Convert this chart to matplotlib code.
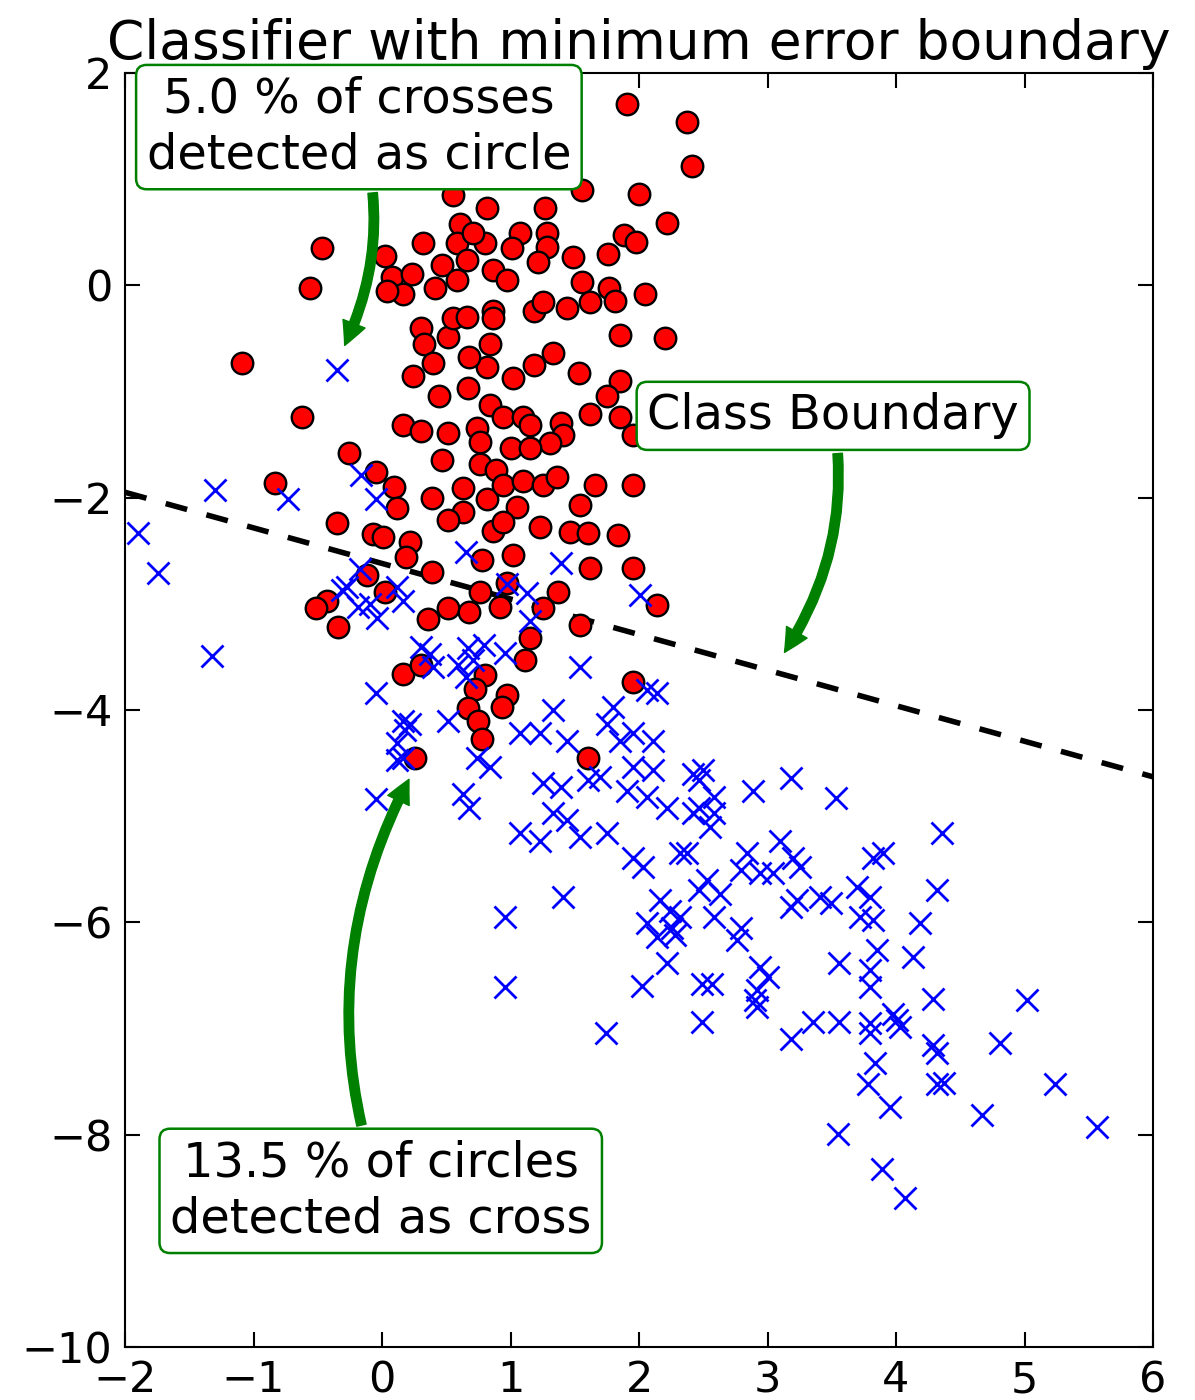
import matplotlib
matplotlib.use("Agg")
import matplotlib.pyplot as plt

# class 1 (circles)
circle_x = [1.91, 2.37, 2.41, 1.56, 2.00, 2.22, 0.82, 1.27, 1.07, 1.28,
            1.28, 1.01, 1.21, 1.49, 1.76, 1.88, 1.98, 0.80, 0.86, 0.97,
            1.56, 1.77, 1.81, 2.05, 1.62, 1.44, 1.18, 1.25, 0.86, 0.86,
            1.85, 2.20, 0.84, 1.33, 1.18, 0.82, 1.53, 1.85, 1.02, 0.55,
            0.61, 0.58, 0.71, 0.32, 0.02, -0.47, -0.56, 0.08, 0.23, 0.16,
            0.04, 0.41, 0.47, 0.58, 0.66, 0.30, 0.33, 0.51, 0.55, 0.66,
            0.68, 0.40, 0.24, -1.09, 0.44, 0.67, 0.84, -0.62, 0.16, 0.30,
            0.51, 0.74, 0.76, 0.94, 1.00, 0.47, 0.76, 0.89, -0.26, -0.05,
            0.09, 0.12, -0.83, 0.39, 0.63, 0.63, 0.82, 0.94, 0.51, 0.86,
            1.05, -0.35, -0.07, 0.01, 0.22, 0.19, 0.39, 0.78, 1.02, -0.12,
            0.02, -0.43, -0.51, -0.34, 0.36, 0.51, 0.68, 0.92, 0.97, 0.76,
            0.16, 0.30, 1.75, 1.62, 1.85, 1.95, 1.10, 1.15, 1.39, 1.41,
            1.31, 1.15, 1.10, 1.25, 1.36, 1.66, 1.95, 1.54, 0.94, 1.23,
            1.46, 1.60, 1.84, 1.62, 1.95, 1.37, 1.25, 1.54, 2.14, 1.15,
            1.11, 0.80, 0.72, 0.97, 0.93, 0.67, 0.75, 0.78, 1.95, 1.60,
            0.26]
circle_y = [1.71, 1.54, 1.12, 0.90, 0.86, 0.59, 0.73, 0.73, 0.49, 0.49,
            0.36, 0.35, 0.22, 0.27, 0.29, 0.47, 0.41, 0.40, 0.14, 0.05,
            0.03, -0.03, -0.15, -0.08, -0.16, -0.21, -0.24, -0.16, -0.24, -0.31,
            -0.47, -0.50, -0.55, -0.64, -0.75, -0.77, -0.83, -0.90, -0.87, 0.85,
            0.58, 0.40, 0.49, 0.40, 0.28, 0.35, -0.03, 0.08, 0.11, -0.08,
            -0.05, -0.03, 0.19, 0.05, 0.24, -0.40, -0.55, -0.49, -0.31, -0.30,
            -0.68, -0.73, -0.85, -0.73, -1.04, -0.97, -1.13, -1.24, -1.32, -1.37,
            -1.39, -1.34, -1.48, -1.24, -1.53, -1.65, -1.68, -1.74, -1.58, -1.76,
            -1.90, -2.10, -1.86, -2.00, -1.91, -2.14, -2.01, -1.88, -2.21, -2.31,
            -2.09, -2.24, -2.34, -2.37, -2.42, -2.56, -2.70, -2.59, -2.54, -2.73,
            -2.89, -2.97, -3.04, -3.22, -3.14, -3.04, -3.08, -3.03, -2.80, -2.89,
            -3.66, -3.58, -1.04, -1.21, -1.24, -1.41, -1.24, -1.32, -1.30, -1.41,
            -1.49, -1.53, -1.84, -1.88, -1.81, -1.88, -1.88, -2.07, -2.23, -2.28,
            -2.32, -2.33, -2.35, -2.66, -2.66, -2.89, -3.04, -3.20, -3.01, -3.32,
            -3.53, -3.67, -3.80, -3.86, -3.97, -3.98, -4.10, -4.27, -3.74, -4.45,
            -4.45]

# class 2 (crosses)
cross_x = [-0.35, -1.30, -0.73, -1.90, -1.74, -1.32, -0.16, -0.05, 0.65, 0.97,
           -0.17, -0.27, -0.09, -0.04, 0.12, 0.16, -0.19, -0.31, 0.30, 0.37,
           0.67, 0.71, 0.96, 1.39, 2.01, 1.13, 1.15, 0.79, 1.54, -0.05,
           0.16, 0.18, 0.12, 0.12, -0.05, 0.40, 0.59, 0.65, 0.51, 0.22,
           0.16, 0.74, 0.84, 0.63, 0.68, 1.07, 1.23, 1.33, 1.44, 1.25,
           1.39, 1.60, 1.70, 1.80, 1.75, 2.06, 2.14, 1.85, 1.95, 2.11,
           1.95, 2.11, 1.91, 2.06, 2.22, 1.07, 1.23, 1.33, 1.44, 1.54,
           1.75, 1.95, 2.03, 2.32, 2.42, 2.42, 1.41, 0.96, 2.16, 2.06,
           2.26, 2.50, 2.47, 2.89, 3.18, 3.53, 4.36, 2.58, 2.58, 2.47,
           2.55, 2.37, 2.84, 3.10, 3.20, 2.79, 2.94, 2.53, 2.47, 2.63,
           3.04, 3.25, 3.41, 3.49, 3.23, 3.82, 3.90, 3.70, 3.80, 3.72,
           3.82, 4.19, 4.32, 2.58, 2.79, 2.32, 3.85, 4.13, 3.80, 3.80,
           4.29, 5.02, 3.98, 4.01, 3.80, 3.80, 4.29, 4.81, 3.56, 3.35,
           3.56, 4.03, 4.32, 3.84, 3.78, 4.32, 4.37, 5.24, 3.95, 4.67,
           5.56, 3.55, 3.89, 4.07, 0.96, 1.74, 2.02, 2.22, 2.49, 2.57,
           2.49, 2.14, 2.28, 2.24, 2.76, 2.94, 3.00, 2.92, 2.90, 2.92,
           3.18, 3.18]
cross_y = [-0.80, -1.93, -2.01, -2.33, -2.71, -3.49, -1.79, -2.01, -2.51, -2.81,
           -2.67, -2.84, -3.00, -3.13, -2.84, -2.97, -3.03, -2.87, -3.41, -3.47,
           -3.42, -3.53, -3.46, -2.62, -2.92, -2.90, -3.16, -3.39, -3.60, -3.84,
           -4.10, -4.19, -4.31, -4.47, -4.84, -3.60, -3.58, -3.69, -4.10, -4.13,
           -4.45, -4.45, -4.54, -4.79, -4.92, -4.22, -4.22, -4.00, -4.29, -4.69,
           -4.73, -4.66, -4.63, -3.97, -4.13, -3.81, -3.84, -4.29, -4.22, -4.29,
           -4.54, -4.57, -4.76, -4.82, -4.92, -5.16, -5.23, -4.97, -5.04, -5.20,
           -5.16, -5.39, -5.48, -5.35, -4.60, -4.97, -5.76, -5.95, -5.79, -6.01,
           -6.05, -4.57, -4.66, -4.76, -4.64, -4.83, -5.16, -4.82, -4.97, -4.92,
           -5.10, -5.35, -5.35, -5.23, -5.39, -5.51, -5.54, -5.60, -5.70, -5.73,
           -5.54, -5.48, -5.76, -5.82, -5.79, -5.39, -5.35, -5.67, -5.76, -5.95,
           -5.98, -6.01, -5.70, -5.95, -6.05, -5.95, -6.26, -6.33, -6.45, -6.61,
           -6.72, -6.73, -6.86, -6.92, -6.95, -7.04, -7.16, -7.14, -6.38, -6.94,
           -6.94, -6.99, -7.23, -7.33, -7.52, -7.52, -7.51, -7.52, -7.74, -7.82,
           -7.93, -7.99, -8.32, -8.60, -6.61, -7.04, -6.60, -6.38, -6.58, -6.58,
           -6.94, -6.14, -6.12, -5.89, -6.17, -6.42, -6.52, -6.64, -6.73, -6.80,
           -7.10, -5.86]

# decision boundary end points
boundary_x = [-2.0, 6.0]
boundary_y = [-1.95, -4.63]

x_ticks = [-2, -1, 0, 1, 2, 3, 4, 5, 6]
y_ticks = [2, 0, -2, -4, -6, -8, -10]

plt.rcParams['xtick.direction'] = 'in'
plt.rcParams['ytick.direction'] = 'in'
plt.rcParams['xtick.top'] = True
plt.rcParams['ytick.right'] = True

fig = plt.figure(figsize=(11.95, 14), dpi=100)
ax = fig.add_axes([0.1046, 0.0379, 0.8603, 0.91])

ax.plot(boundary_x, boundary_y, color='black', linewidth=4.0,
        linestyle=(0, (4.0, 3.6)), zorder=1)
ax.plot(circle_x, circle_y, 'o', color='red', markeredgecolor='black',
        markersize=15.5, markeredgewidth=1.7, zorder=2)
ax.plot(cross_x, cross_y, 'x', color='blue', markersize=16.5,
        markeredgewidth=2.0, zorder=3)

ax.set_xlim(-2, 6)
ax.set_ylim(-10, 2)
ax.set_xticks(x_ticks)
ax.set_yticks(y_ticks)
ax.tick_params(labelsize=31, length=11, width=1.5, pad=9)
for s in ax.spines.values():
    s.set_linewidth(1.5)

ax.set_title('Classifier with minimum error boundary', fontsize=38.5, pad=10)

box = dict(boxstyle='round,pad=0.22', facecolor='white', edgecolor='green',
           linewidth=1.8)
arrow = dict(arrowstyle='simple', color='green', mutation_scale=34,
             connectionstyle='arc3,rad=-0.2')

ax.annotate('5.0 % of crosses\ndetected as circle', xy=(-0.30, -0.59),
            xytext=(-0.18, 1.49), fontsize=34.5, ha='center', va='center',
            bbox=box, arrowprops=arrow, zorder=5, linespacing=1.25)
ax.annotate('Class Boundary', xy=(3.12, -3.48), xytext=(3.51, -1.23),
            fontsize=34.5, ha='center', va='center',
            bbox=box, arrowprops=arrow, zorder=5)
ax.annotate('13.5 % of circles\ndetected as cross', xy=(0.22, -4.63),
            xytext=(-0.01, -8.53), fontsize=34.5, ha='center', va='center',
            bbox=box, arrowprops=dict(arrow, connectionstyle='arc3,rad=-0.22'),
            zorder=5, linespacing=1.25)

fig.savefig('out.png', dpi=100)
